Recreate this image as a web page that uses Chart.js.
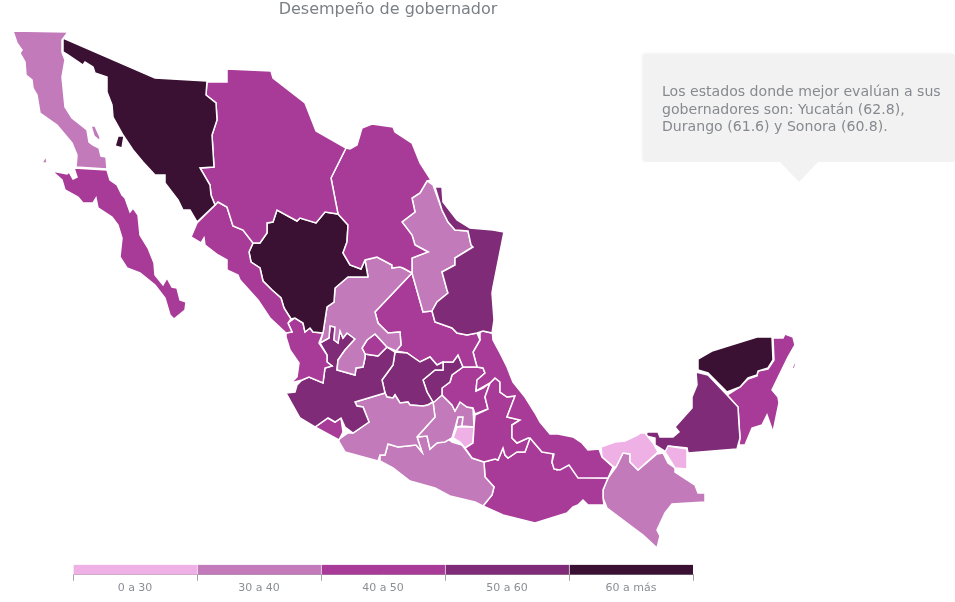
<!DOCTYPE html>
<html>
<head>
<meta charset="utf-8">
<script src="https://cdn.jsdelivr.net/npm/chart.js@4/dist/chart.umd.min.js"></script>
<style>
	html, body { margin: 0; padding: 0; background: #fff; }
	body { width: 955px; height: 602px; position: relative; overflow: hidden; font-family: "DejaVu Sans", sans-serif; }
	canvas { position: absolute; }
	#mapa { left: 0; top: 0; }
	#leyenda { left: 60px; top: 535px; }
	#titulo { position: absolute; left: 188px; width: 400px; top: -1px; text-align: center; font-size: 16px; color: #7b8087; }
	#nota { position: absolute; left: 643px; top: 54px; width: 312px; height: 108px; background: #f2f2f2; border-radius: 3px; box-shadow: -1px -1px 3px rgba(0,0,0,0.05); color: #868a8f; font-size: 14.1px; line-height: 17.6px; }
	#nota p { margin: 0; position: absolute; left: 19px; top: 29px; width: 290px; }
	#nota:after { content: ''; position: absolute; left: 137px; top: 108px; border-left: 19px solid transparent; border-right: 19px solid transparent; border-top: 20px solid #f2f2f2; }
</style>
</head>
<body>
<canvas id="mapa" width="955" height="602"></canvas>
<canvas id="leyenda" width="650" height="67"></canvas>
<div id="titulo">Desempeño de gobernador</div>
<div id="nota"><p>Los estados donde mejor evalúan a sus gobernadores son: Yucatán (62.8), Durango (61.6) y Sonora (60.8).</p></div>
<script>
// rangos de la leyenda
var rangos = ['0 a 30', '30 a 40', '40 a 50', '50 a 60', '60 a más'];
var coloresRango = ['#efb0e6', '#c27abb', '#a83a98', '#7f2b78', '#3a1033'];
var celdasLeyenda = [1, 1, 1, 1, 1];

var bajaCalifornia = [13,31, 68,32, 62,40, 62,52, 65,60, 62,77, 65,107, 72,118, 87,130, 89,142, 93,145, 99,148, 101,156, 106,157, 107,169, 76,167, 77,155, 72,143, 57,125, 40,113, 37,95, 33,88, 32,80, 26,75, 25,62, 20,53, 22,50, 17,43];
var islaAngel = [91,126, 95,126, 100,137, 100,141, 94,136];
var islaCedros = [42,163, 46,156, 47,163];
var bajaCaliforniaSur = [52,171, 67,174, 69,172, 73,179, 77,177, 74,168, 107,170, 110,180, 117,185, 122,195, 125,198, 130,212, 133,208, 138,215, 140,235, 148,248, 154,263, 155,275, 163,285, 167,278, 172,287, 177,288, 180,300, 186,302, 185,310, 174,319, 170,315, 165,298, 155,285, 140,273, 127,268, 120,257, 122,238, 118,225, 112,217, 98,208, 96,198, 93,203, 83,203, 78,197, 65,190, 62,180];
var sonora = [63,38, 155,78, 207,81, 206,95, 216,103, 217,120, 212,135, 214,167, 200,168, 210,185, 211,195, 215,205, 197,222, 190,210, 183,210, 178,200, 165,183, 165,175, 155,175, 143,162, 133,150, 123,135, 113,117, 112,105, 107,92, 107,77, 95,73, 93,67, 85,62, 83,65, 68,55, 63,52];
var islaTiburon = [115,146, 118,136, 124,136, 122,148];
var chihuahua = [207,82, 227,82, 227,69, 271,71, 273,78, 305,103, 316,131, 346,148, 331,178, 338,214, 325,212, 316,223, 300,218, 297,221, 277,210, 273,222, 267,223, 267,233, 260,243, 253,243, 243,230, 233,226, 227,207, 218,202, 215,205, 211,195, 210,185, 200,168, 214,167, 212,135, 217,120, 216,103, 206,95];
var coahuila = [346,148, 350,149, 357,145, 362,128, 372,124, 393,127, 395,132, 412,143, 420,163, 431,180, 427,181, 420,193, 412,198, 415,212, 402,222, 412,235, 415,245, 428,252, 412,258, 412,273, 403,268, 400,267, 392,268, 392,265, 377,257, 365,260, 361,269, 350,265, 343,253, 347,242, 348,225, 338,214, 331,178];
var nuevoLeon = [427,181, 433,185, 442,210, 448,222, 455,230, 468,231, 471,245, 473,247, 455,258, 455,265, 442,272, 447,290, 448,293, 437,302, 432,311, 423,312, 412,273, 412,258, 428,252, 415,245, 412,235, 402,222, 415,212, 412,198, 420,193];
var tamaulipas = [435,187, 442,187, 443,202, 457,220, 470,228, 493,230, 504,232, 493,287, 492,293, 494,320, 492,333, 483,331, 477,333, 467,335, 457,333, 452,328, 435,322, 432,311, 437,302, 448,293, 447,290, 442,272, 455,265, 455,258, 473,247, 471,245, 468,231, 455,230, 448,222, 442,210];
var sinaloa = [197,223, 215,205, 218,202, 227,207, 233,226, 243,230, 253,243, 249,252, 251,262, 260,268, 263,281, 272,290, 281,298, 284,308, 291,319, 288,323, 292,332, 286,333, 270,318, 258,300, 240,280, 238,275, 227,270, 227,260, 218,255, 205,245, 204,238, 201,243, 191,237];
var durango = [277,210, 297,221, 300,218, 316,223, 325,212, 338,214, 348,225, 347,242, 343,253, 350,265, 361,269, 365,260, 368,277, 348,277, 335,288, 334,302, 327,307, 323,333, 313,332, 310,328, 305,332, 303,323, 295,318, 291,319, 284,308, 281,298, 272,290, 263,281, 260,268, 251,262, 249,252, 253,243, 260,243, 267,233, 267,223, 273,222];
var zacatecas = [368,277, 365,260, 377,257, 392,265, 392,268, 400,267, 403,268, 412,273, 375,312, 378,323, 388,333, 400,332, 401,345, 396,351, 387,347, 375,334, 367,340, 362,348, 365,354, 365,358, 363,367, 356,368, 355,375, 337,370, 338,360, 345,350, 355,339, 347,333, 343,338, 340,331, 338,343, 334,340, 335,327, 330,326, 329,338, 320,343, 323,333, 327,307, 334,302, 335,288, 348,277];
var aguascalientes = [362,348, 367,340, 375,334, 387,347, 378,356, 365,354];
var nayarit = [286,333, 292,332, 288,323, 295,318, 303,323, 305,332, 310,328, 313,332, 323,333, 319,343, 327,355, 327,362, 332,366, 325,368, 323,383, 309,377, 302,380, 291,383, 297,377, 299,363, 290,350, 286,337];
var jalisco = [286,393, 295,392, 297,385, 302,380, 309,377, 323,383, 325,368, 332,366, 327,362, 327,355, 320,343, 329,338, 330,326, 335,327, 334,340, 338,343, 340,331, 343,338, 347,333, 355,339, 345,350, 338,360, 337,370, 355,375, 356,368, 363,367, 365,358, 365,354, 378,356, 387,347, 395,352, 393,365, 382,380, 385,393, 355,402, 357,406, 363,407, 369,422, 353,433, 345,427, 341,418, 335,422, 328,418, 315,427, 300,418];
var colima = [315,427, 328,418, 335,422, 341,418, 343,432, 339,440];
var michoacan = [355,402, 385,393, 387,397, 393,398, 395,395, 400,403, 408,402, 410,405, 423,406, 428,405, 433,402, 435,417, 417,437, 422,452, 416,445, 398,447, 388,444, 385,455, 380,455, 378,461, 345,452, 338,440, 348,433, 353,433, 369,422, 363,407, 357,406];
var guanajuato = [395,352, 407,353, 420,362, 430,357, 437,365, 443,362, 443,370, 435,370, 423,380, 427,392, 433,402, 428,405, 423,406, 410,405, 408,402, 400,403, 395,395, 393,398, 387,397, 385,393, 382,380, 393,365];
var queretaro = [423,380, 435,370, 443,370, 443,362, 453,362, 458,355, 463,367, 452,375, 450,382, 442,388, 442,395, 433,403, 427,392];
var sanLuisPotosi = [412,273, 423,312, 432,311, 435,322, 452,328, 457,333, 467,335, 477,333, 480,340, 473,352, 477,367, 463,367, 458,355, 453,362, 443,362, 437,365, 430,357, 420,362, 407,353, 396,351, 401,345, 400,332, 388,333, 378,323, 375,312];
var hidalgo = [463,367, 477,367, 483,368, 485,373, 477,380, 476,391, 483,388, 490,383, 485,397, 488,409, 475,414, 473,408, 467,407, 460,402, 455,411, 452,405, 442,395, 442,388, 450,382, 452,375];
var edoMexico = [433,402, 442,395, 452,405, 455,411, 460,402, 467,407, 473,408, 474,427, 462,426, 463,417, 458,417, 455,428, 452,438, 445,442, 437,443, 430,449, 427,436, 417,437, 435,417];
var distritoFederal = [458,417, 463,417, 462,426, 456,427];
var morelos = [453,438, 457,427, 474,427, 473,443, 465,448, 460,442];
var tlaxcala = [475,417, 488,410, 502,420, 487,427];
var puebla = [475,415, 488,409, 485,397, 490,383, 495,378, 500,382, 500,392, 507,397, 515,396, 507,417, 520,420, 512,425, 512,438, 517,443, 528,438, 530,438, 525,452, 517,452, 508,458, 505,455, 503,448, 498,460, 495,459, 484,462, 472,458, 465,448, 473,443, 474,427];
var veracruz = [480,332, 483,331, 492,333, 492,328, 493,340, 500,353, 507,367, 513,382, 525,397, 535,413, 540,422, 550,434, 558,434, 573,437, 582,443, 588,450, 599,449, 602,457, 613,467, 608,478, 578,478, 569,465, 560,470, 554,469, 552,462, 554,454, 542,452, 530,438, 528,438, 517,443, 512,438, 512,425, 520,420, 507,417, 515,396, 507,397, 500,392, 500,382, 495,378, 490,383, 476,391, 477,380, 485,373, 483,368, 477,367, 473,352, 480,340];
var guerrero = [380,461, 380,455, 385,455, 388,444, 398,447, 416,445, 422,452, 417,437, 427,436, 430,449, 437,443, 448,439, 452,442, 462,445, 472,458, 484,462, 485,477, 494,487, 492,495, 483,506, 475,502, 450,496, 435,488, 410,481, 393,468];
var oaxaca = [484,462, 495,459, 498,460, 503,448, 505,455, 508,458, 517,452, 525,452, 530,438, 542,452, 553,453, 552,463, 557,470, 570,463, 578,477, 608,478, 603,490, 603,498, 604,505, 595,505, 588,505, 583,500, 578,505, 573,507, 567,513, 535,523, 503,515, 483,506, 492,495, 494,487, 485,477];
var tabasco = [601,447, 615,442, 625,441, 638,435, 640,433, 645,433, 653,443, 658,452, 638,470, 630,462, 630,454, 623,453, 616,467, 614,467, 602,457];
var tabascoEste = [665,452, 668,446, 687,449, 687,469, 675,468, 672,463];
var chiapas = [608,478, 616,467, 623,453, 630,454, 630,462, 638,470, 657,454, 663,453, 668,463, 675,468, 675,472, 695,485, 698,493, 705,493, 705,502, 672,504, 665,513, 657,530, 660,536, 657,548, 643,535, 607,508, 603,498, 603,490];
var campeche = [696,372, 708,375, 727,395, 738,407, 739,425, 740,438, 737,449, 688,453, 687,448, 669,446, 666,452, 655,445, 655,438, 646,436, 647,432, 658,432, 660,437, 673,437, 679,432, 675,427, 692,408, 692,397, 697,385];
var yucatan = [698,359, 712,351, 757,337, 772,337, 773,360, 768,368, 758,371, 757,375, 748,378, 740,387, 727,392, 708,373, 698,370];
var quintanaRoo = [773,338, 783,338, 785,334, 793,337, 795,345, 788,357, 772,390, 778,397, 779,403, 773,432, 767,415, 762,425, 752,428, 745,445, 739,445, 740,438, 738,407, 727,395, 740,387, 748,379, 757,376, 758,371, 768,369, 774,360];
var cozumel = [792,368, 795,362, 796,364, 794,369];

// cada contorno con el indice de su rango
var contornos = [bajaCalifornia, islaAngel, islaCedros, bajaCaliforniaSur, sonora, islaTiburon, chihuahua, coahuila, tamaulipas, nuevoLeon, sinaloa, durango, zacatecas, aguascalientes, nayarit, jalisco, colima, michoacan, guanajuato, sanLuisPotosi, queretaro, veracruz, puebla, hidalgo, edoMexico, distritoFederal, morelos, tlaxcala, guerrero, oaxaca, tabasco, tabascoEste, chiapas, campeche, yucatan, quintanaRoo, cozumel];
var rangoContorno = [1, 1, 1, 2, 4, 4, 2, 2, 3, 1, 2, 4, 1, 2, 2, 3, 2, 1, 3, 2, 3, 2, 2, 2, 1, 1, 0, 2, 1, 2, 0, 0, 1, 3, 4, 2, 2];

function aPuntos(contorno) {
	var puntos = [];
	for (var i = 0; i < contorno.length; i += 2) {
		puntos.push({ x: contorno[i], y: contorno[i + 1] });
	}
	puntos.push({ x: contorno[0], y: contorno[1] });
	return puntos;
}

var datasetsMapa = contornos.map(function(contorno, i) {
	return {
		data: aPuntos(contorno),
		showLine: true,
		fill: 'shape',
		backgroundColor: coloresRango[rangoContorno[i]],
		borderColor: '#fff',
		borderWidth: 1.5,
		pointRadius: 0,
		pointHoverRadius: 0
	};
});

new Chart(document.getElementById('mapa'), {
	type: 'scatter',
	data: { datasets: datasetsMapa },
	options: {
		responsive: false,
		animation: false,
		layout: { padding: 0 },
		plugins: { legend: { display: false }, tooltip: { enabled: false }, title: { display: false } },
		scales: {
			x: { type: 'linear', display: false, min: 0, max: 955 },
			y: { type: 'linear', display: false, min: 0, max: 602, reverse: true }
		}
	}
});

new Chart(document.getElementById('leyenda'), {
	type: 'bar',
	data: {
		labels: rangos,
		datasets: [{
			data: celdasLeyenda,
			backgroundColor: coloresRango,
			borderColor: 'rgba(255,255,255,0.6)',
			borderWidth: { left: 1, right: 0, top: 0, bottom: 0 },
			barPercentage: 1,
			categoryPercentage: 1
		}]
	},
	options: {
		responsive: false,
		animation: false,
		layout: { padding: { left: 13, right: 17, top: 10, bottom: 6 } },
		plugins: { legend: { display: false }, tooltip: { enabled: false } },
		scales: {
			x: {
				grid: { offset: true, drawOnChartArea: false, drawTicks: true, tickLength: 6, color: '#a6a6a6' },
				border: { color: '#a6a6a6' },
				ticks: { color: '#8b8f94', font: { family: '"DejaVu Sans"', size: 11 }, padding: 1, maxRotation: 0 }
			},
			// la barra ocupa solo el tercio inferior del area
			y: { display: false, min: 0, max: 3 }
		}
	}
});
</script>
</body>
</html>
